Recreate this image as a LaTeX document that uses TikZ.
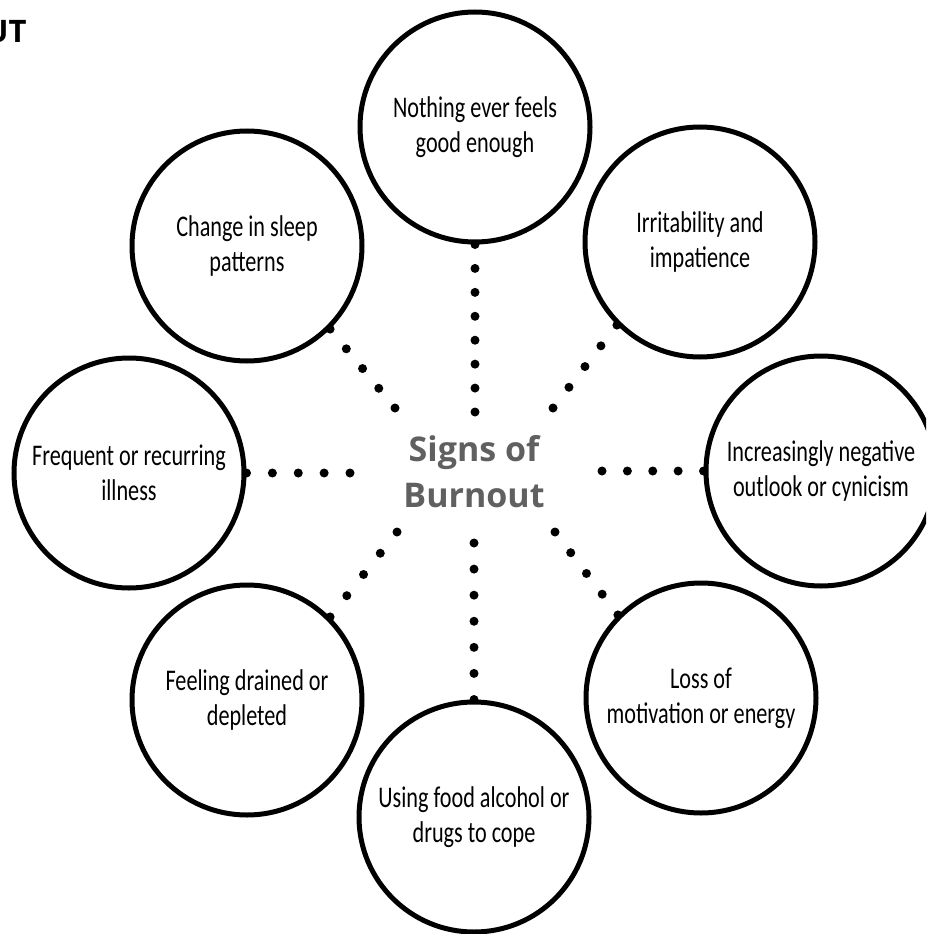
\documentclass[tikz,border=0pt]{standalone}
\usepackage{fontspec}
\setmainfont{Carlito}
\newfontfamily\circfont[FakeStretch=0.74]{Carlito}
\newfontfamily\headfont{Open Sans}
\usepackage{tikz}
\usetikzlibrary{calc}
\definecolor{signgray}{RGB}{96,96,96}

\begin{document}
\begin{tikzpicture}[x=1pt, y=-1pt]
        \tikzset{signnode/.style={circle, draw, line width=5pt, minimum size=230pt, inner sep=0pt, align=center, font=\circfont\fontsize{30}{35}\selectfont}}
        \tikzset{dot/.style={fill=black}}
        \clip (0,0) rectangle (926,934);

        \node[anchor=base east, font=\headfont\bfseries\fontsize{31}{31}\selectfont] (title) at (30,43) {UT};

        \node[signnode] (good) at (475,127) {Nothing ever feels\\good enough};
        \node[signnode] (irrit) at (700,242) {Irritability and\\impatience};
        \node[signnode] (cyn) at (821,471) {Increasingly negative\\outlook or cynicism};
        \node[signnode] (motiv) at (701,698) {Loss of\\motivation or energy};
        \node[signnode] (cope) at (474,817) {Using food alcohol or\\drugs to cope};
        \node[signnode] (drain) at (247,700) {Feeling drained or\\depleted};
        \node[signnode] (ill) at (129,473) {Frequent or recurring\\illness};
        \node[signnode] (sleep) at (247,246) {Change in sleep\\patterns};

        \node[align=center, text=signgray, font=\headfont\bfseries\fontsize{34}{46}\selectfont] (signs) at (474,472) {Signs of\\Burnout};

        \coordinate (good_in) at (475,412);
        \coordinate (irrit_in) at (553,408);
        \coordinate (cyn_in) at (602,471);
        \coordinate (motiv_in) at (555,532);
        \coordinate (cope_in) at (474,543);
        \coordinate (drain_in) at (397,532);
        \coordinate (ill_in) at (350,473);
        \coordinate (sleep_in) at (395,408);

        % dotted spokes
        \foreach \from/\to/\n in {good.south/good_in/7, irrit.south west/irrit_in/4,
            cyn.west/cyn_in/4, motiv.north west/motiv_in/4, cope.north/cope_in/6,
            drain.north east/drain_in/4, ill.east/ill_in/4, sleep.south east/sleep_in/4}
            \foreach \k in {0,...,\n}
                \fill[dot] ($(\from)!\k/\n!(\to)$) circle (4.5pt);
\end{tikzpicture}
\end{document}
